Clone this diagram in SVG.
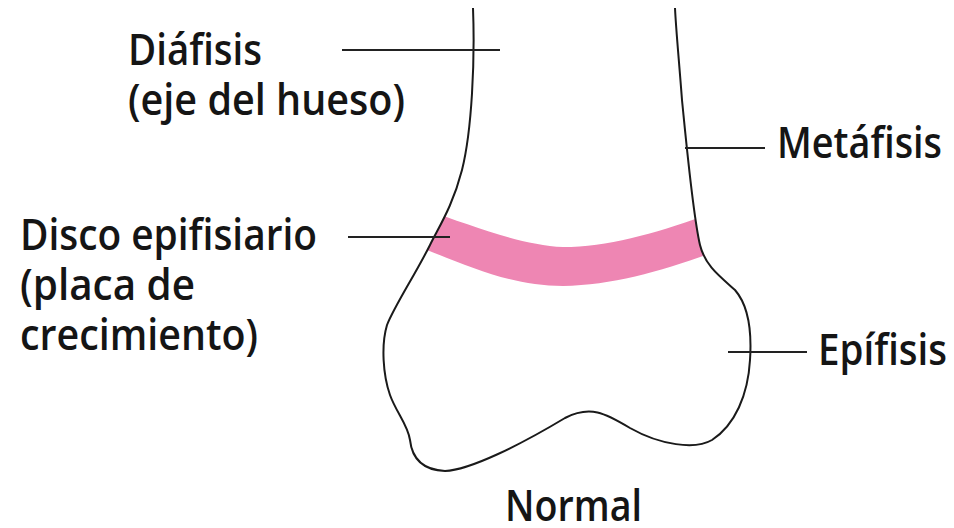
<svg xmlns="http://www.w3.org/2000/svg" width="954" height="528" viewBox="0 0 954 528">
  <style>
    .lbl { font-family: "Open Sans", "Noto Sans", "Liberation Sans", sans-serif; font-size: 44px; font-weight: 600; fill: #151515; }
    .lead { stroke: #222; stroke-width: 2; fill: none; }
    .outline { stroke: #1a1a1a; stroke-width: 2; fill: none; stroke-linejoin: round; }
  </style>
  <defs>
    <path id="bonePath" d="M 473 8 C 475 60, 472 130, 462 170 C 453 205, 440 225, 430 245 C 415 275, 395 305, 387 325 C 381 345, 383 375, 390 395 C 396 412, 408 425, 410 440 C 412 458, 422 470, 445 471 C 470 470, 520 445, 565 418 C 590 405, 605 413, 630 428 C 660 445, 695 450, 712 440 C 735 425, 748 395, 750 360 C 752 330, 748 305, 735 290 C 718 275, 705 265, 700 245 C 693 215, 687 150, 682 100 C 679 60, 676 30, 675 8 Z"/>
    <clipPath id="boneClip">
      <use href="#bonePath"/>
    </clipPath>
  </defs>
  <rect width="954" height="528" fill="#ffffff"/>

  <!-- growth plate band, clipped to the bone -->
  <g id="growth-plate" clip-path="url(#boneClip)">
    <path d="M 420 208 C 470 225, 520 245, 563 247 C 610 247, 660 232, 715 212 L 720 250 C 665 270, 615 285, 563 286 C 510 286, 465 265, 415 245 Z" fill="#ee86b3"/>
  </g>

  <!-- bone outline (open at the top) -->
  <g id="bone">
    <path class="outline" d="M 473 8 C 475 60, 472 130, 462 170 C 453 205, 440 225, 430 245 C 415 275, 395 305, 387 325 C 381 345, 383 375, 390 395 C 396 412, 408 425, 410 440 C 412 458, 422 470, 445 471 C 470 470, 520 445, 565 418 C 590 405, 605 413, 630 428 C 660 445, 695 450, 712 440 C 735 425, 748 395, 750 360 C 752 330, 748 305, 735 290 C 718 275, 705 265, 700 245 C 693 215, 687 150, 682 100 C 679 60, 676 30, 675 8"/>
  </g>

  <!-- leader lines -->
  <g id="connectors">
    <line class="lead" x1="342" y1="50" x2="500" y2="50"/>
    <line class="lead" x1="348" y1="237" x2="450" y2="237"/>
    <line class="lead" x1="685" y1="148" x2="765" y2="148"/>
    <line class="lead" x1="728" y1="352" x2="807" y2="352"/>
  </g>

  <g id="label-diafisis">
    <text class="lbl" x="128" y="65" textLength="134" lengthAdjust="spacingAndGlyphs">Diáfisis</text>
    <text class="lbl" x="128" y="115" textLength="277" lengthAdjust="spacingAndGlyphs">(eje del hueso)</text>
  </g>
  <g id="label-disco">
    <text class="lbl" x="20" y="250" textLength="297" lengthAdjust="spacingAndGlyphs">Disco epifisiario</text>
    <text class="lbl" x="20" y="300" textLength="175" lengthAdjust="spacingAndGlyphs">(placa de</text>
    <text class="lbl" x="20" y="350" textLength="238" lengthAdjust="spacingAndGlyphs">crecimiento)</text>
  </g>
  <g id="label-metafisis">
    <text class="lbl" x="777" y="158" textLength="165" lengthAdjust="spacingAndGlyphs">Metáfisis</text>
  </g>
  <g id="label-epifisis">
    <text class="lbl" x="818" y="365" textLength="129" lengthAdjust="spacingAndGlyphs">Epífisis</text>
  </g>
  <g id="label-normal">
    <text class="lbl" x="505" y="521" textLength="137" lengthAdjust="spacingAndGlyphs">Normal</text>
  </g>
</svg>
